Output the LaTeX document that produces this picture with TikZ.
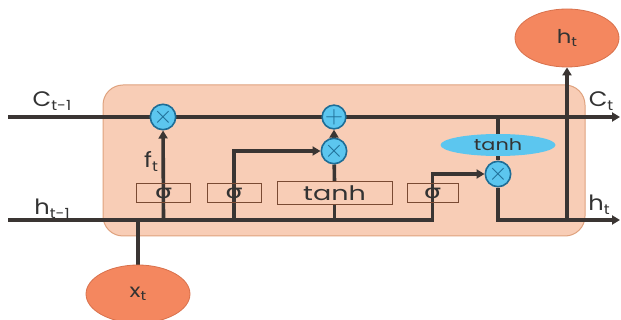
\documentclass[tikz,border=0pt]{standalone}
\usepackage{fontspec}
\usepackage{graphicx}
\setmainfont{Poppins}
\newfontfamily\grk{DejaVu Sans}
\usetikzlibrary{arrows.meta,shapes.geometric}
\definecolor{cellf}{HTML}{F8CDB6}
\definecolor{cellb}{HTML}{DFA27E}
\definecolor{linec}{HTML}{3A3533}
\definecolor{opf}{HTML}{5CC6EF}
\definecolor{opb}{HTML}{1E6D96}
\definecolor{iof}{HTML}{F4875F}
\definecolor{iob}{HTML}{D8714C}
\definecolor{boxb}{HTML}{7A4A33}
\definecolor{txt}{HTML}{333333}
\pgfdeclarelayer{back}
\pgfdeclarelayer{bg}
\pgfsetlayers{back,bg,main}
\newcommand\lab[2]{\scalebox{1.15}[1]{{\fontsize{21}{21}\selectfont #1}\raisebox{-4pt}{\fontsize{14}{14}\selectfont #2}}}
\newcommand\sig{\scalebox{1.45}[1]{\grk\fontsize{19}{19}\selectfont σ}}
\begin{document}
\begin{tikzpicture}[x=1pt,y=-1pt,
  line/.style={draw=linec, line width=3.6pt},
  arr/.style={-{Triangle[length=8pt,width=9pt]}},
  op/.style={circle, draw=opb, fill=opf, line width=1.6pt, minimum size=20pt, inner sep=0pt, text=opb, font=\fontsize{26}{26}\selectfont},
  gatebox/.style={draw=boxb, line width=1pt, minimum height=19pt, inner sep=0pt, text=txt},
  io/.style={ellipse, draw=iob, fill=iof, line width=0.8pt, minimum width=104pt, minimum height=58pt, inner sep=0pt, text=txt, font=\fontsize{19}{19}\selectfont},
  lbl/.style={text=txt, inner sep=0pt}]
\useasboundingbox (0,0) rectangle (621,320);
% cell body
\begin{pgfonlayer}{back}
\node[draw=cellb, fill=cellf, line width=1pt, rounded corners=20pt, minimum width=482pt, minimum height=151pt, inner sep=0pt] (cell) at (344,160.5) {};
\end{pgfonlayer}
% coordinates
\coordinate (cin) at (8,117);
\coordinate (cout) at (620,117);
\coordinate (hin) at (8,220);
\coordinate (hout) at (620,220);
% operators
\node[op] (f) at (163,117) {$\times$};
\node[op] (plus) at (334,117) {$+$};
\node[op] (i) at (334,151) {$\times$};
\node[op] (o) at (498,174) {$\times$};
% gates
\node[gatebox, minimum width=54pt] (sf) at (163.5,193) {\sig};
\node[gatebox, minimum width=54pt] (si) at (234,193) {\sig};
\node[gatebox, minimum width=115pt, minimum height=23pt, fill=cellf] (tb) at (334.5,193.5) {\scalebox{1.35}[1]{\fontsize{20}{20}\selectfont tanh}};
\node[gatebox, minimum width=51pt] (so) at (432.5,193) {\sig};
\node[ellipse, fill=opf, minimum width=115pt, minimum height=22pt, inner sep=0pt, text=txt] (th) at (498,145) {\scalebox{1.3}[1]{\fontsize{16}{16}\selectfont tanh}};
% inputs / outputs
\node[io] (ht) at (567,38) {\scalebox{1.2}[1]{h\raisebox{-3pt}{\fontsize{13}{13}\selectfont t}}};
\node[io] (xt) at (138,294) {\scalebox{1.2}[1]{x\raisebox{-3pt}{\fontsize{13}{13}\selectfont t}}};
% labels
\node[lbl] (lc0) at (52,101) {\lab{C}{t-1}};
\node[lbl] (lh0) at (52,209) {\lab{h}{t-1}};
\node[lbl] (lc1) at (601,101) {\lab{C}{t}};
\node[lbl] (lh1) at (599,205) {\lab{h}{t}};
\node[lbl] (lf) at (151,161) {\lab{f}{t}};
% connectors
\begin{pgfonlayer}{bg}
\draw[line, line width=3.2pt, arr] (cin) -- (cout);
\draw[line, line width=3.2pt, arr] (hin) -- (hin -| so) -- (so |- o) -- (o);
\draw[line, arr] (sf |- hin) -- (f);
\draw[line, arr] (si |- hin) -- (si |- i) -- (i);
\draw[line] (tb |- hin) -- (tb.south);
\draw[line] (tb.north) -- (i);
\draw[line, arr] (i) -- (plus);
\draw[line] (o |- cout) -- (th);
\draw[line] (th) -- (o);
\draw[line, line width=3.2pt, arr] (o) -- (o |- hout) -- (hout);
\draw[line, arr] (ht |- hout) -- (ht);
\draw[line] (xt) -- (xt |- hin);
\end{pgfonlayer}
\end{tikzpicture}
\end{document}
